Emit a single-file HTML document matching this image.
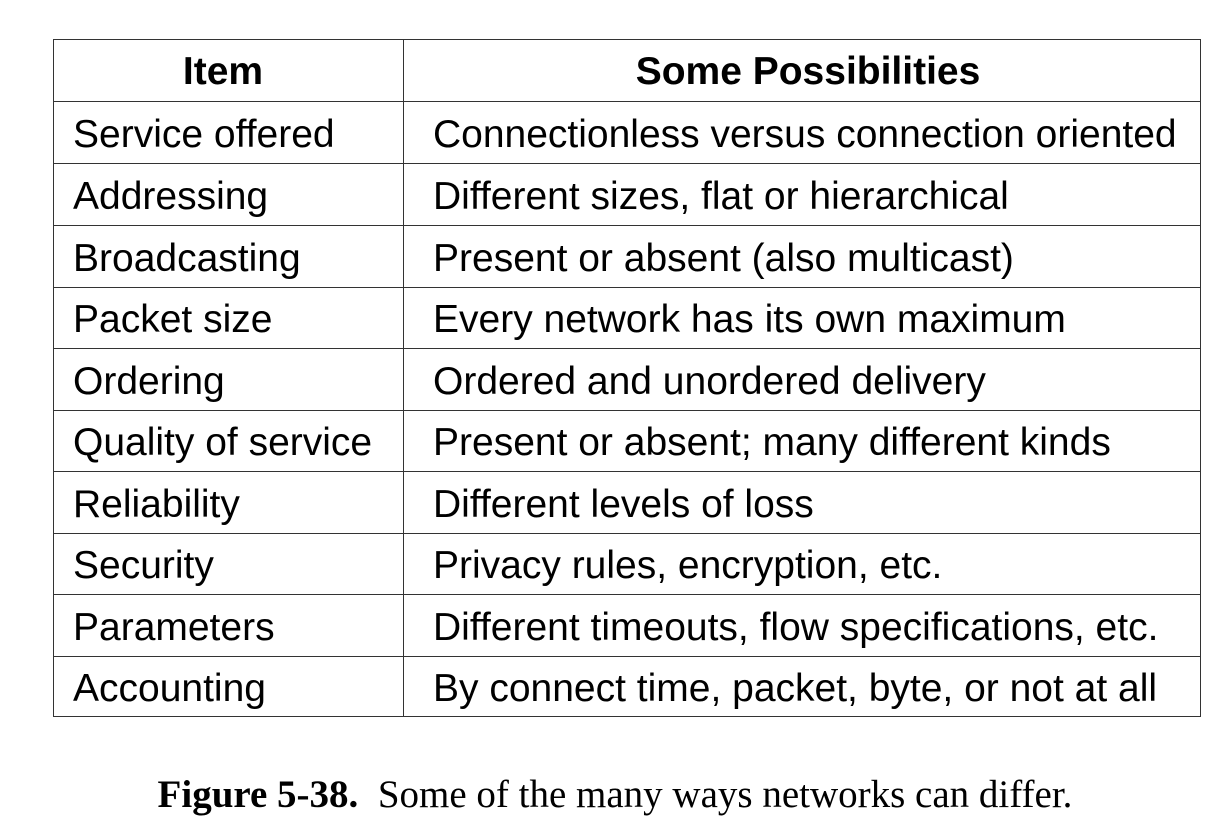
<!DOCTYPE html>
<html><head><style>
body{margin:0;width:1230px;height:832px;background:#fff;position:relative;font-family:"Liberation Sans",Arial,sans-serif;color:#000;overflow:hidden}
.h{position:absolute;left:53px;width:1148px;height:0;border-top:1.5px solid #333}
.v{position:absolute;top:39px;height:677px;width:0;border-left:1.5px solid #333}
.t{position:absolute;font-size:39px;line-height:62px;white-space:nowrap}
.b{font-weight:bold;font-size:39px}
.cap{position:absolute;left:0;width:1230px;top:772px;text-align:center;font-family:"Liberation Serif",serif;font-size:39px;white-space:nowrap}
</style></head><body>
<div class="h" style="top:39px"></div>
<div class="h" style="top:101px"></div>
<div class="h" style="top:163px"></div>
<div class="h" style="top:225px"></div>
<div class="h" style="top:287px"></div>
<div class="h" style="top:348px"></div>
<div class="h" style="top:410px"></div>
<div class="h" style="top:471px"></div>
<div class="h" style="top:533px"></div>
<div class="h" style="top:594px"></div>
<div class="h" style="top:656px"></div>
<div class="h" style="top:716px"></div>
<div class="v" style="left:53px"></div>
<div class="v" style="left:403px"></div>
<div class="v" style="left:1200px"></div>

<div class="t b" style="left:53px;width:340px;text-align:center;top:41px">Item</div>
<div class="t b" style="left:404px;width:808px;text-align:center;top:41px">Some Possibilities</div>

<div class="t" style="left:73px;top:104px">Service offered</div>
<div class="t" style="left:433px;top:104px">Connectionless versus connection oriented</div>
<div class="t" style="left:73px;top:166px">Addressing</div>
<div class="t" style="left:433px;top:166px">Different sizes, flat or hierarchical</div>
<div class="t" style="left:73px;top:228px">Broadcasting</div>
<div class="t" style="left:433px;top:228px">Present or absent (also multicast)</div>
<div class="t" style="left:73px;top:289px">Packet size</div>
<div class="t" style="left:433px;top:289px">Every network has its own maximum</div>
<div class="t" style="left:73px;top:351px">Ordering</div>
<div class="t" style="left:433px;top:351px">Ordered and unordered delivery</div>
<div class="t" style="left:73px;top:412px">Quality of service</div>
<div class="t" style="left:433px;top:412px">Present or absent; many different kinds</div>
<div class="t" style="left:73px;top:474px">Reliability</div>
<div class="t" style="left:433px;top:474px">Different levels of loss</div>
<div class="t" style="left:73px;top:535px">Security</div>
<div class="t" style="left:433px;top:535px">Privacy rules, encryption, etc.</div>
<div class="t" style="left:73px;top:597px">Parameters</div>
<div class="t" style="left:433px;top:597px">Different timeouts, flow specifications, etc.</div>
<div class="t" style="left:73px;top:658px">Accounting</div>
<div class="t" style="left:433px;top:658px">By connect time, packet, byte, or not at all</div>

<div class="cap"><b>Figure 5-38.</b>&nbsp; Some of the many ways networks can differ.</div>
</body></html>
